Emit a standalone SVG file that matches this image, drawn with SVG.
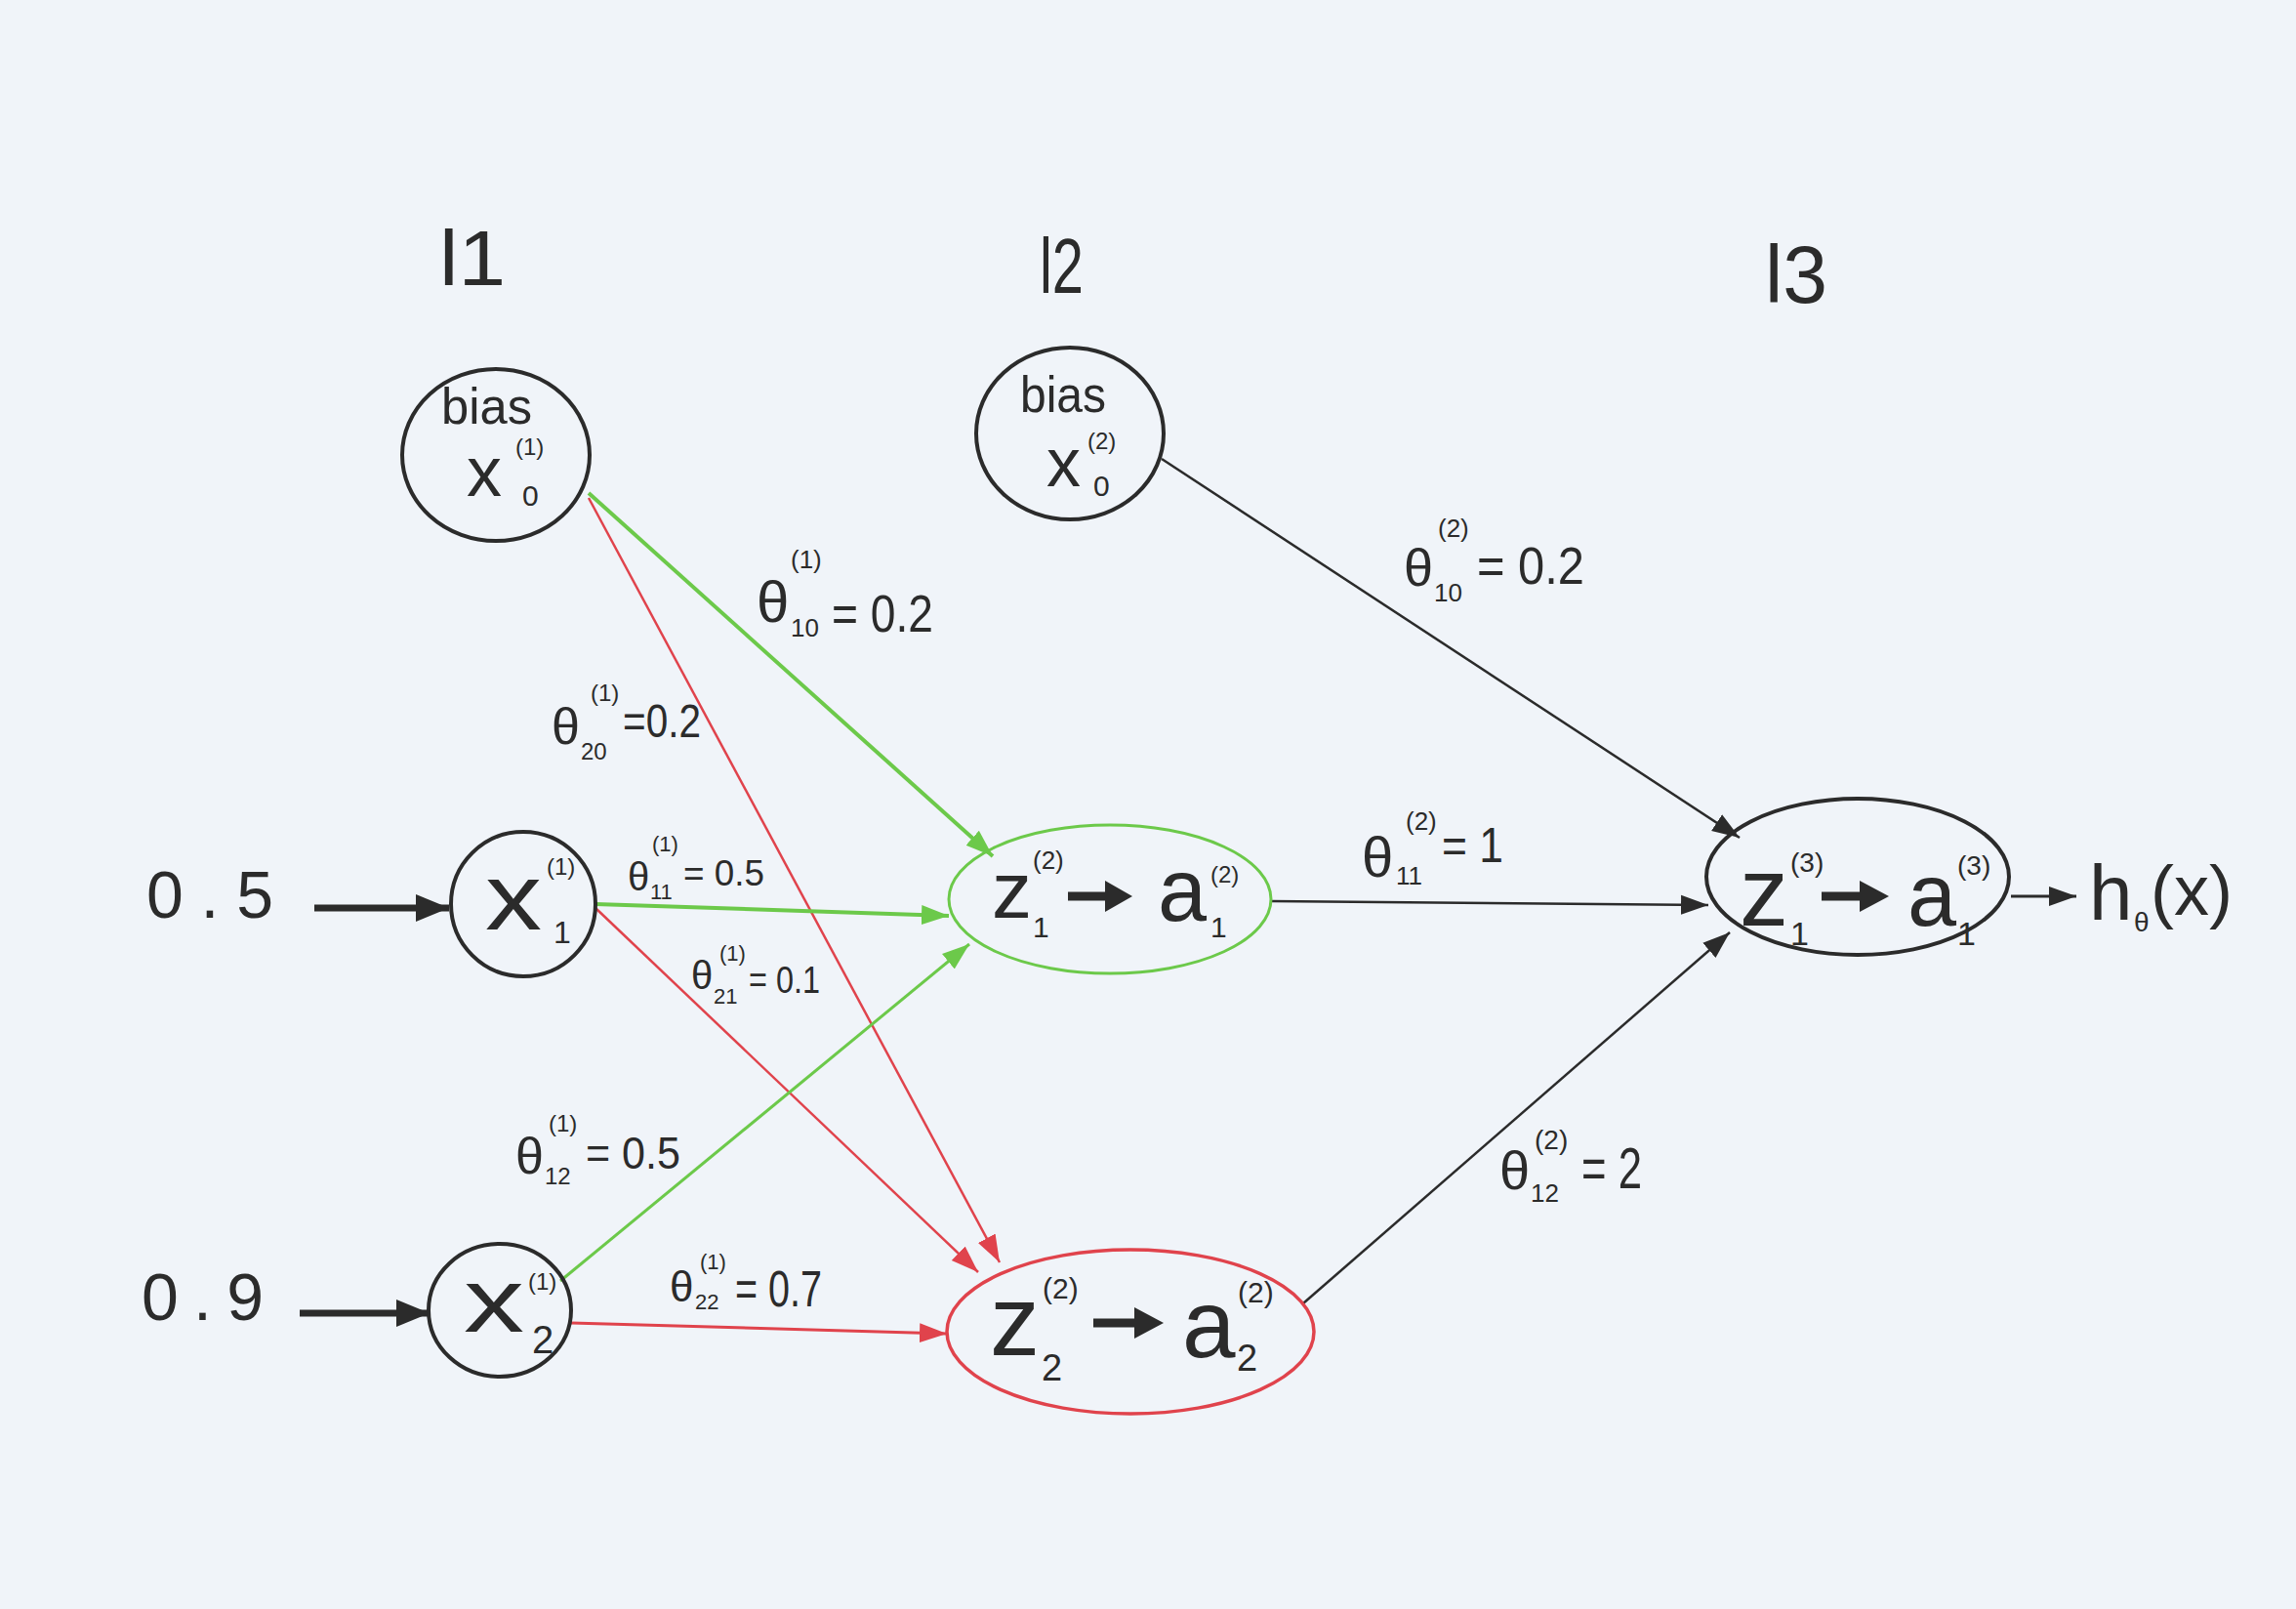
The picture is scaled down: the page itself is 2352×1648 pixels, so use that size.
<svg xmlns="http://www.w3.org/2000/svg" width="2352" height="1648" viewBox="0 0 2352 1648">
<defs>
<style>
.t{font-family:"Liberation Sans",Arial,sans-serif;fill:#2b2b2b}
.k{stroke:#2b2b2b;fill:none}
.node{fill:none;stroke:#2b2b2b;stroke-width:4}
.g{stroke:#6cc94a;fill:none}
.r{stroke:#e0434c;fill:none}
</style>
<marker id="ak" markerUnits="userSpaceOnUse" markerWidth="30" markerHeight="24" refX="28" refY="12" orient="auto"><path d="M0,2 L28,12 L0,22 z" fill="#2b2b2b"/></marker>
<marker id="ag" markerUnits="userSpaceOnUse" markerWidth="30" markerHeight="24" refX="28" refY="12" orient="auto"><path d="M0,2 L28,12 L0,22 z" fill="#6cc94a"/></marker>
<marker id="ar" markerUnits="userSpaceOnUse" markerWidth="30" markerHeight="24" refX="28" refY="12" orient="auto"><path d="M0,2 L28,12 L0,22 z" fill="#e0434c"/></marker>
<marker id="ab" markerUnits="userSpaceOnUse" markerWidth="36" markerHeight="30" refX="34" refY="15" orient="auto"><path d="M0,1 L34,15 L0,29 z" fill="#2b2b2b"/></marker>
</defs>
<rect width="2352" height="1648" fill="#f0f4f9"/>

<g id="layer-labels">
<text class="t" x="450" y="292" font-size="80" textLength="68" lengthAdjust="spacingAndGlyphs">l1</text>
<text class="t" x="1065" y="300" font-size="80" textLength="45" lengthAdjust="spacingAndGlyphs">l2</text>
<text class="t" x="1808" y="310" font-size="84" textLength="64" lengthAdjust="spacingAndGlyphs">l3</text>
</g>

<g id="connectors">
<line class="g" x1="603" y1="505" x2="1017" y2="877" stroke-width="4" marker-end="url(#ag)"/>
<line class="r" x1="603" y1="510" x2="1024" y2="1293" stroke-width="2.5" marker-end="url(#ar)"/>
<line class="g" x1="610" y1="926" x2="972" y2="938" stroke-width="4" marker-end="url(#ag)"/>
<line class="r" x1="610" y1="930" x2="1002" y2="1303" stroke-width="2.5" marker-end="url(#ar)"/>
<line class="g" x1="574" y1="1312" x2="993" y2="967" stroke-width="3" marker-end="url(#ag)"/>
<line class="r" x1="585" y1="1355" x2="970" y2="1366" stroke-width="3" marker-end="url(#ar)"/>
<line class="k" x1="1190" y1="470" x2="1782" y2="858" stroke-width="2.5" marker-end="url(#ak)"/>
<line class="k" x1="1302" y1="923" x2="1750" y2="927" stroke-width="2.5" marker-end="url(#ak)"/>
<line class="k" x1="1335" y1="1335" x2="1772" y2="955" stroke-width="2.5" marker-end="url(#ak)"/>
<line class="k" x1="2060" y1="918" x2="2127" y2="918" stroke-width="3" marker-end="url(#ak)"/>
<line class="k" x1="322" y1="930" x2="460" y2="930" stroke-width="7" marker-end="url(#ab)"/>
<line class="k" x1="307" y1="1345" x2="440" y2="1345" stroke-width="7" marker-end="url(#ab)"/>
</g>

<g id="input-1">
<text class="t" x="150" y="940" font-size="68" textLength="130" lengthAdjust="spacing">0.5</text>
</g>
<g id="input-2">
<text class="t" x="145" y="1352" font-size="68" textLength="125" lengthAdjust="spacing">0.9</text>
</g>

<g id="node-bias1">
<ellipse class="node" cx="508" cy="466" rx="96" ry="88"/>
<text class="t" x="452" y="434" font-size="52" textLength="93" lengthAdjust="spacingAndGlyphs">bias</text>
<text class="t" x="478" y="508" font-size="72">x</text>
<text class="t" x="528" y="466" font-size="24">(1)</text>
<text class="t" x="535" y="518" font-size="30">0</text>
</g>

<g id="node-bias2">
<ellipse class="node" cx="1096" cy="444" rx="96" ry="88"/>
<text class="t" x="1045" y="422" font-size="52" textLength="88" lengthAdjust="spacingAndGlyphs">bias</text>
<text class="t" x="1072" y="498" font-size="70">x</text>
<text class="t" x="1114" y="460" font-size="24">(2)</text>
<text class="t" x="1120" y="508" font-size="30">0</text>
</g>

<g id="node-x1">
<ellipse class="node" cx="536" cy="926" rx="74" ry="74"/>
<text class="t" x="497" y="952" font-size="96" textLength="58" lengthAdjust="spacingAndGlyphs">x</text>
<text class="t" x="560" y="896" font-size="24">(1)</text>
<text class="t" x="567" y="966" font-size="32">1</text>
</g>

<g id="node-x2">
<ellipse class="node" cx="512" cy="1342" rx="73" ry="68"/>
<text class="t" x="475" y="1364" font-size="92" textLength="62" lengthAdjust="spacingAndGlyphs">x</text>
<text class="t" x="541" y="1321" font-size="24">(1)</text>
<text class="t" x="545" y="1386" font-size="40">2</text>
</g>

<g id="node-z1-2">
<ellipse cx="1137" cy="921" rx="165" ry="76" fill="none" stroke="#6cc94a" stroke-width="3"/>
<line class="k" x1="1094" y1="918" x2="1140" y2="918" stroke-width="9"/>
<path d="M1132,902 L1160,918 L1132,934 z" fill="#2b2b2b"/>
<text class="t" x="1016" y="940" font-size="82">z</text>
<text class="t" x="1058" y="890" font-size="26">(2)</text>
<text class="t" x="1058" y="960" font-size="30">1</text>
<text class="t" x="1186" y="943" font-size="90">a</text>
<text class="t" x="1240" y="904" font-size="24">(2)</text>
<text class="t" x="1240" y="960" font-size="30">1</text>
</g>

<g id="node-z2-2">
<ellipse cx="1158" cy="1364" rx="188" ry="84" fill="none" stroke="#e0434c" stroke-width="3.5"/>
<line class="k" x1="1120" y1="1355" x2="1168" y2="1355" stroke-width="9"/>
<path d="M1162,1339 L1192,1355 L1162,1371 z" fill="#2b2b2b"/>
<text class="t" x="1014" y="1388" font-size="102">z</text>
<text class="t" x="1068" y="1330" font-size="30">(2)</text>
<text class="t" x="1067" y="1414" font-size="38">2</text>
<text class="t" x="1211" y="1390" font-size="98">a</text>
<text class="t" x="1268" y="1334" font-size="30">(2)</text>
<text class="t" x="1267" y="1404" font-size="38">2</text>
</g>

<g id="node-z1-3">
<ellipse class="node" cx="1903" cy="898" rx="155" ry="80" stroke-width="3.5"/>
<line class="k" x1="1866" y1="918" x2="1912" y2="918" stroke-width="9"/>
<path d="M1905,902 L1935,918 L1905,934 z" fill="#2b2b2b"/>
<text class="t" x="1782" y="948" font-size="100">z</text>
<text class="t" x="1834" y="893" font-size="28">(3)</text>
<text class="t" x="1834" y="968" font-size="34">1</text>
<text class="t" x="1954" y="948" font-size="90">a</text>
<text class="t" x="2005" y="896" font-size="28">(3)</text>
<text class="t" x="2005" y="968" font-size="34">1</text>
</g>

<g id="output">
<text class="t" x="2140" y="942" font-size="80">h</text>
<text class="t" x="2186" y="954" font-size="28">θ</text>
<text class="t" x="2203" y="937" font-size="72">(x)</text>
</g>

<g id="weight-labels">
<g id="w10-1">
<text class="t" x="775" y="637" font-size="60">θ</text>
<text class="t" x="810" y="582" font-size="26">(1)</text>
<text class="t" x="810" y="652" font-size="26">10</text>
<text class="t" x="852" y="647" font-size="54" textLength="104" lengthAdjust="spacingAndGlyphs">= 0.2</text>
</g>
<g id="w20-1">
<text class="t" x="565" y="762" font-size="52">θ</text>
<text class="t" x="605" y="718" font-size="24">(1)</text>
<text class="t" x="595" y="778" font-size="24">20</text>
<text class="t" x="638" y="755" font-size="48" textLength="80" lengthAdjust="spacingAndGlyphs">=0.2</text>
</g>
<g id="w11-1">
<text class="t" x="643" y="912" font-size="40">θ</text>
<text class="t" x="668" y="872" font-size="22">(1)</text>
<text class="t" x="666" y="921" font-size="22">11</text>
<text class="t" x="700" y="907" font-size="36" textLength="83" lengthAdjust="spacingAndGlyphs">= 0.5</text>
</g>
<g id="w21-1">
<text class="t" x="708" y="1013" font-size="40">θ</text>
<text class="t" x="737" y="984" font-size="22">(1)</text>
<text class="t" x="731" y="1028" font-size="22">21</text>
<text class="t" x="767" y="1017" font-size="38" textLength="73" lengthAdjust="spacingAndGlyphs">= 0.1</text>
</g>
<g id="w12-1">
<text class="t" x="528" y="1202" font-size="52">θ</text>
<text class="t" x="562" y="1159" font-size="24">(1)</text>
<text class="t" x="558" y="1213" font-size="24">12</text>
<text class="t" x="600" y="1197" font-size="46" textLength="97" lengthAdjust="spacingAndGlyphs">= 0.5</text>
</g>
<g id="w22-1">
<text class="t" x="686" y="1333" font-size="44">θ</text>
<text class="t" x="717" y="1300" font-size="22">(1)</text>
<text class="t" x="712" y="1341" font-size="22">22</text>
<text class="t" x="753" y="1338" font-size="52" textLength="89" lengthAdjust="spacingAndGlyphs">= 0.7</text>
</g>
<g id="w10-2">
<text class="t" x="1438" y="600" font-size="54">θ</text>
<text class="t" x="1473" y="550" font-size="26">(2)</text>
<text class="t" x="1469" y="616" font-size="26">10</text>
<text class="t" x="1513" y="598" font-size="54" textLength="110" lengthAdjust="spacingAndGlyphs">= 0.2</text>
</g>
<g id="w11-2">
<text class="t" x="1395" y="898" font-size="58">θ</text>
<text class="t" x="1440" y="850" font-size="26">(2)</text>
<text class="t" x="1430" y="906" font-size="26">11</text>
<text class="t" x="1477" y="883" font-size="50" textLength="63" lengthAdjust="spacingAndGlyphs">= 1</text>
</g>
<g id="w12-2">
<text class="t" x="1536" y="1218" font-size="56">θ</text>
<text class="t" x="1572" y="1177" font-size="28">(2)</text>
<text class="t" x="1568" y="1231" font-size="26">12</text>
<text class="t" x="1620" y="1217" font-size="60" textLength="62" lengthAdjust="spacingAndGlyphs">= 2</text>
</g>
</g>
</svg>
